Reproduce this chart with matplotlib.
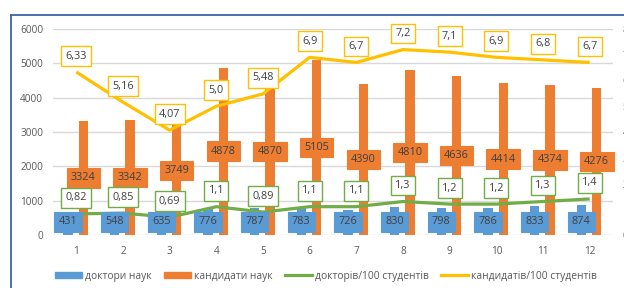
import matplotlib
matplotlib.use("Agg")
import matplotlib.pyplot as plt
from matplotlib.lines import Line2D
from matplotlib.patches import Patch

categories = [1, 2, 3, 4, 5, 6, 7, 8, 9, 10, 11, 12]
doctors = [431, 548, 635, 776, 787, 783, 726, 830, 798, 786, 833, 874]
candidates = [3324, 3342, 3749, 4878, 4870, 5105, 4390, 4810, 4636, 4414, 4374, 4276]
doc_per100 = [0.82, 0.85, 0.69, 1.1, 0.89, 1.1, 1.1, 1.3, 1.2, 1.2, 1.3, 1.4]
cand_per100 = [6.33, 5.16, 4.07, 5.0, 5.48, 6.9, 6.7, 7.2, 7.1, 6.9, 6.8, 6.7]
doc_lbl = ["0,82", "0,85", "0,69", "1,1", "0,89", "1,1", "1,1", "1,3", "1,2", "1,2", "1,3", "1,4"]
cand_lbl = ["6,33", "5,16", "4,07", "5,0", "5,48", "6,9", "6,7", "7,2", "7,1", "6,9", "6,8", "6,7"]
left_ticks = [0, 1000, 2000, 3000, 4000, 5000, 6000]
right_ticks = [0, 1, 2, 3, 4, 5, 6, 7, 8]
legend_labels = ["доктори наук", "кандидати наук", "докторів/100 студентів", "кандидатів/100 студентів"]

BLUE = "#5B9BD5"
ORANGE = "#ED7D31"
GREEN = "#70AD47"
YELLOW = "#FFC000"
TXT = "#404040"
AX = "#595959"

plt.rcParams['font.family'] = ['Open Sans', 'DejaVu Sans']
FS = 7.2
LFS = 7.8

W, H = 624, 288
fig = plt.figure(figsize=(W / 100, H / 100), dpi=100)
ax = fig.add_axes([53 / W, (H - 235) / H, (613 - 53) / W, (235 - 29) / H])
ax2 = ax.twinx()

x = categories
bw = 0.2
xb = [c - 0.18 for c in x]
xo = [c + 0.15 for c in x]
ax.bar(xb, doctors, width=bw, color=BLUE, zorder=2)
ax.bar(xo, candidates, width=bw, color=ORANGE, zorder=2)

ax.set_xlim(0.5, 12.5)
ax.set_ylim(0, 6000)
ax.set_yticks(left_ticks)
ax.set_xticks(x)
ax.set_xticklabels([str(c) for c in x])
ax.yaxis.grid(True, color="#D9D9D9", linewidth=1.0, zorder=0)
ax.set_axisbelow(True)
for s in ax.spines.values():
    s.set_visible(False)
for s in ax2.spines.values():
    s.set_visible(False)
ax.tick_params(axis='y', length=0, pad=7, labelsize=FS, labelcolor=AX)
ax.tick_params(axis='x', length=0, pad=8, labelsize=FS, labelcolor=AX)

ax2.set_ylim(0, 8)
ax2.set_yticks(right_ticks)
ax2.tick_params(axis='y', length=0, pad=7, labelsize=FS, labelcolor=AX)
ax2.plot(x, doc_per100, color=GREEN, lw=2.3, zorder=3, solid_capstyle='butt')
ax2.plot(x, cand_per100, color=YELLOW, lw=2.3, zorder=3, solid_capstyle='butt')

ax.set_zorder(1)
ax2.set_zorder(2)
ax.patch.set_visible(False)

# bar labels
for xi, v in zip(xb, doctors):
    ax2.annotate(str(v), xy=(xi, 0), xytext=(0, 13), textcoords='offset pixels',
                 ha='center', va='center', fontsize=LFS, color=TXT, zorder=5,
                 bbox=dict(boxstyle='square,pad=0.4', fc=BLUE, ec=BLUE, lw=0.8))
for xi, v in zip(xo, candidates):
    ax2.annotate(str(v), xy=(xi, v / 2 * 8 / 6000), xytext=(0, 0), textcoords='offset pixels',
                 ha='center', va='center', fontsize=LFS, color=TXT, zorder=5,
                 bbox=dict(boxstyle='square,pad=0.4', fc=ORANGE, ec=ORANGE, lw=0.8))
for xi, v, t in zip(x, doc_per100, doc_lbl):
    ax2.annotate(t, xy=(xi, v), xytext=(0, 16), textcoords='offset pixels',
                 ha='center', va='center', fontsize=LFS, color=TXT, zorder=5,
                 bbox=dict(boxstyle='square,pad=0.4', fc='white', ec=GREEN, lw=1.0))
for xi, v, t in zip(x, cand_per100, cand_lbl):
    ax2.annotate(t, xy=(xi, v), xytext=(0, 16), textcoords='offset pixels',
                 ha='center', va='center', fontsize=LFS, color=TXT, zorder=5,
                 bbox=dict(boxstyle='square,pad=0.4', fc='white', ec=YELLOW, lw=1.0))

# outer frame (chart border, partly outside the image)
fig.add_artist(Line2D([11 / W, 1.0], [1 - 15 / H, 1 - 15 / H], color="#3A66A8", lw=1.3,
                      transform=fig.transFigure))
fig.add_artist(Line2D([11 / W, 11 / W], [0.0, 1 - 15 / H], color="#3A66A8", lw=1.3,
                      transform=fig.transFigure))

handles = [Patch(color=BLUE), Patch(color=ORANGE),
           Line2D([], [], color=GREEN, lw=2.3), Line2D([], [], color=YELLOW, lw=2.3)]
fig.legend(handles, legend_labels, loc='center', bbox_to_anchor=(326 / W, 1 - 276 / H),
           ncol=4, frameon=False, fontsize=7.4, labelcolor=AX, handlelength=2.6,
           handleheight=0.6, handletextpad=0.3, columnspacing=1.2, borderaxespad=0)

fig.savefig("out.png", dpi=100)
